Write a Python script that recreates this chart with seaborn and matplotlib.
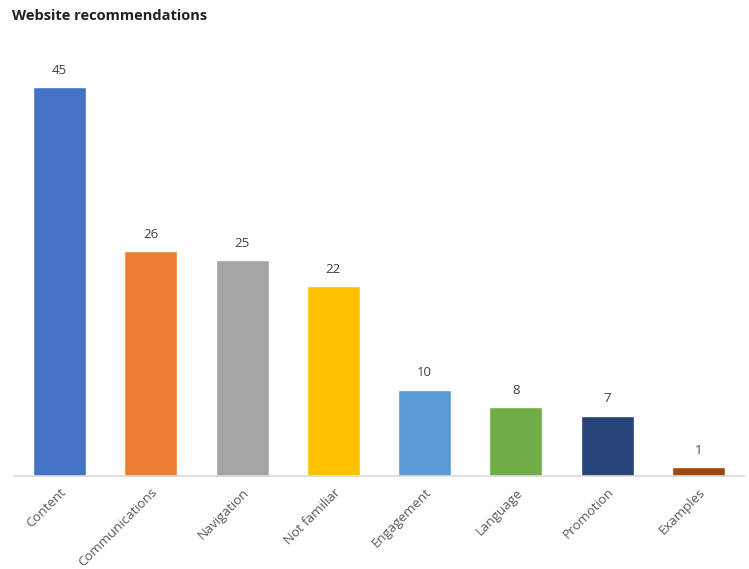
import matplotlib
matplotlib.use("Agg")
import matplotlib.pyplot as plt
import seaborn as sns
import pandas as pd

categories = ["Content", "Communications", "Navigation", "Not familiar",
              "Engagement", "Language", "Promotion", "Examples"]
counts = [45, 26, 25, 22, 10, 8, 7, 1]
colors = ["#4472C4", "#ED7D31", "#A5A5A5", "#FFC000",
          "#5B9BD5", "#70AD47", "#264478", "#9E480E"]

sns.set_style("white")
plt.rcParams["font.family"] = ["Open Sans", "DejaVu Sans"]

df = pd.DataFrame({"category": categories, "count": counts})

fig = plt.figure(figsize=(7.49, 5.69), dpi=100)
ax = fig.add_axes([0.0186, 0.1634, 0.9747, 0.759])

sns.barplot(data=df, x="category", y="count", hue="category",
            palette=colors, width=0.58, legend=False, ax=ax, saturation=1)

for i, v in enumerate(counts):
    ax.text(i, v + 1.2, str(v), ha="center", va="bottom",
            fontsize=9.5, color="#404040")

ax.set_ylim(0, 50)
ax.set_xlim(-0.5, 7.5)
ax.set_xlabel("")
ax.set_ylabel("")
ax.set_yticks([])
for s in ["top", "right", "left"]:
    ax.spines[s].set_visible(False)
ax.spines["bottom"].set_color("#D9D9D9")
ax.spines["bottom"].set_linewidth(1.2)
ax.tick_params(axis="x", length=0, pad=7)
plt.setp(ax.get_xticklabels(), rotation=45, ha="right", rotation_mode="anchor",
         fontsize=9.5, color="#595959")

fig.text(0.016, 0.972, "Website recommendations", fontsize=10.5,
         fontweight="bold", color="#202020", ha="left", va="center")

fig.savefig("out.png", dpi=100)
